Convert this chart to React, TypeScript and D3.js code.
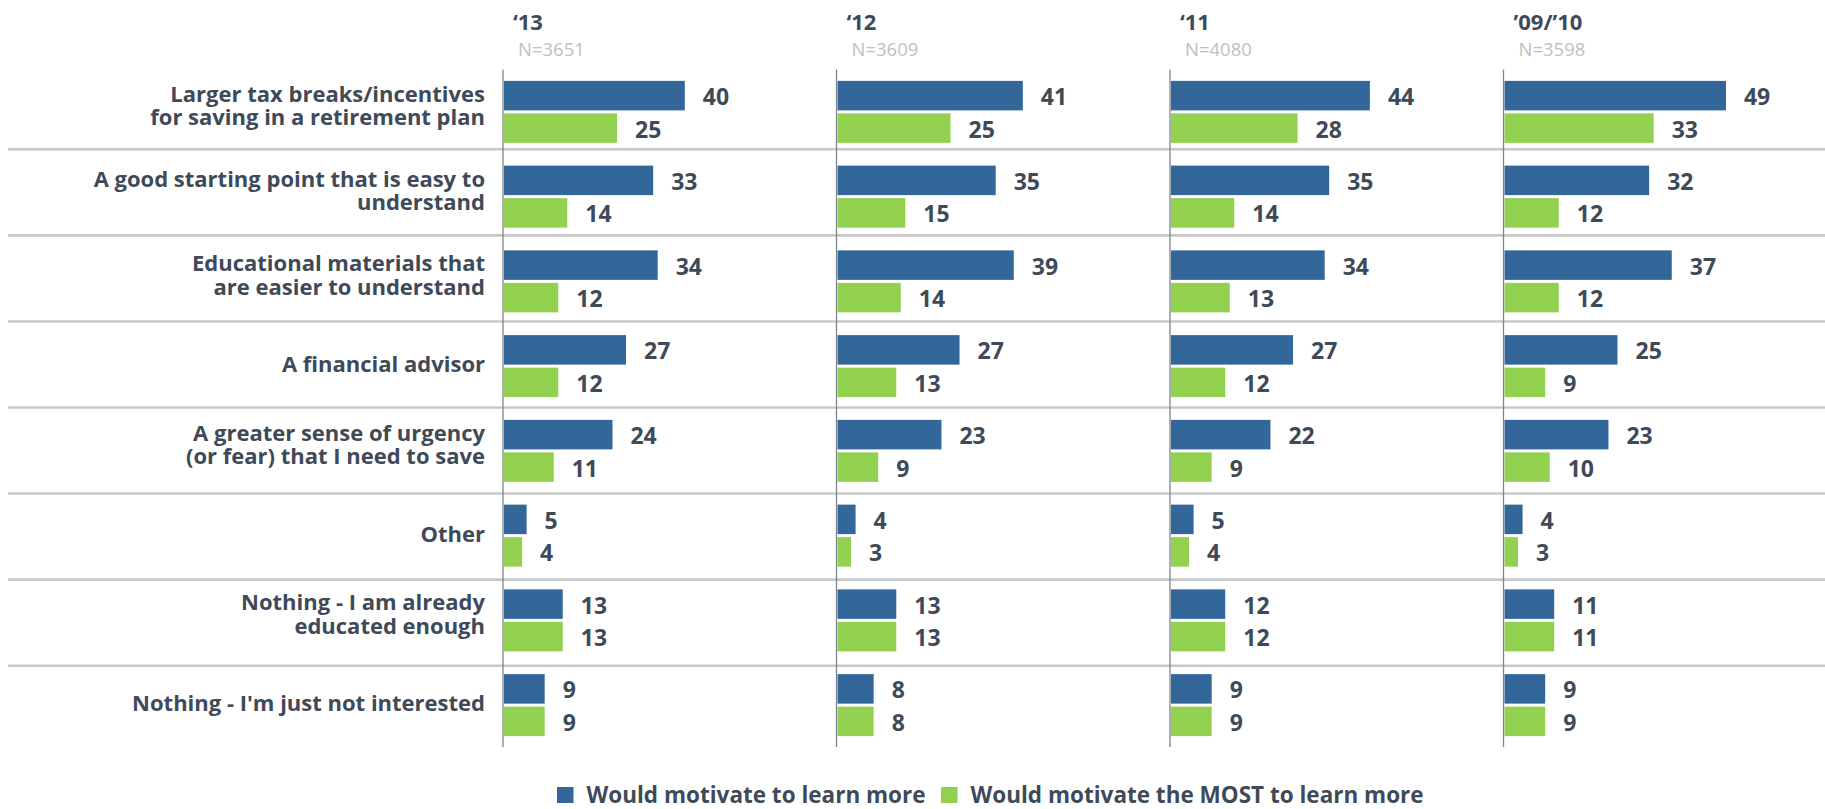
import React from "react";
import * as d3 from "d3";

const categories: string[][] = [
  ["Larger tax breaks/incentives", "for saving in a retirement plan"],
  ["A good starting point that is easy to", "understand"],
  ["Educational materials that", "are easier to understand"],
  ["A financial advisor"],
  ["A greater sense of urgency", "(or fear) that I need to save"],
  ["Other"],
  ["Nothing - I am already", "educated enough"],
  ["Nothing - I'm just not interested"],
];

const years = ["\u201813", "\u201812", "\u201811", "\u201909/\u201910"];
const sampleSizes = ["N=3651", "N=3609", "N=4080", "N=3598"];

const learnMore: number[][] = [
  [40, 33, 34, 27, 24, 5, 13, 9],
  [41, 35, 39, 27, 23, 4, 13, 8],
  [44, 35, 34, 27, 22, 5, 12, 9],
  [49, 32, 37, 25, 23, 4, 11, 9],
];

const learnMost: number[][] = [
  [25, 14, 12, 12, 11, 4, 13, 9],
  [25, 15, 14, 13, 9, 3, 13, 8],
  [28, 14, 13, 12, 9, 4, 12, 9],
  [33, 12, 12, 9, 10, 3, 11, 9],
];

const seriesNames = ["Would motivate to learn more", "Would motivate the MOST to learn more"];

const W = 1825;
const H = 809;
const BLUE = "#336699";
const GREEN = "#92D050";
const TEXT = "#3f4a58";
const FONT = "'Open Sans', sans-serif";

export default function App() {
  const rowIdx = categories.map((_, i) => i);
  const y = d3.scaleBand<number>().domain(rowIdx).range([69.5, 747.5]).paddingInner(0);
  const sepY = d3.scaleLinear().domain([1, 7]).range([149.3, 665.7]);
  const panelX = d3.scalePoint<string>().domain(years).range([503, 1503.5]);
  const x = d3.scaleLinear().domain([0, 50]).range([0, 226]);
  const barH = 29.5;
  const gap = 1.5;

  const legendX = [557, 941];

  return (
    <svg
      width={W}
      height={H}
      style={{ position: "absolute", left: 0, top: 0, display: "block", background: "#fff" }}
      fontFamily={FONT}
    >
      <rect x={0} y={0} width={W} height={H} fill="#fff" />
      {/* separators */}
      {d3.range(1, 8).map((i) => (
        <line key={"s" + i} x1={8} x2={W} y1={sepY(i)} y2={sepY(i)} stroke="#c8c8c8" strokeWidth={2.6} />
      ))}
      {/* category labels */}
      {categories.map((lines, i) => {
        const c = (y(i) as number) + y.bandwidth() / 2;
        return (
          <text key={"c" + i} textAnchor="end" fontSize={22} fontWeight={700} fill={TEXT}>
            {lines.length === 1 ? (
              <tspan x={485} y={c + 6}>{lines[0]}</tspan>
            ) : (
              lines.map((l, j) => (
                <tspan key={j} x={485} y={c - 10 + j * 23.3}>{l}</tspan>
              ))
            )}
          </text>
        );
      })}
      {/* panels */}
      {years.map((yr, p) => {
        const px = panelX(yr) as number;
        return (
          <g key={"p" + p}>
            <text x={px + 10} y={30} fontSize={22} fontWeight={700} fill={TEXT}>{yr}</text>
            <text x={px + 15} y={56} fontSize={18.5} fill="#bfbfbf">{sampleSizes[p]}</text>
            {rowIdx.map((i) => {
              const c = (y(i) as number) + y.bandwidth() / 2;
              const b = learnMore[p][i];
              const g = learnMost[p][i];
              const by = c - gap - barH;
              const gy = c + gap;
              return (
                <g key={"r" + i}>
                  <rect x={px + 1} y={by} width={x(b)} height={barH} fill={BLUE} />
                  <rect x={px + 1} y={gy} width={x(g)} height={barH} fill={GREEN} />
                  <text x={px + 1 + x(b) + 18} y={by + barH / 2 + 9.5} fontSize={23} fontWeight={700} fill={TEXT}>{b}</text>
                  <text x={px + 1 + x(g) + 18} y={gy + barH / 2 + 9.5} fontSize={23} fontWeight={700} fill={TEXT}>{g}</text>
                </g>
              );
            })}
            <line x1={px} x2={px} y1={69.5} y2={747} stroke="#7d858f" strokeWidth={1.3} />
          </g>
        );
      })}
      {/* legend */}
      {seriesNames.map((s, i) => (
        <g key={"l" + i}>
          <rect x={legendX[i]} y={787} width={16.5} height={16} fill={i === 0 ? BLUE : GREEN} />
          <text x={legendX[i] + 29.5} y={803} fontSize={22.5} fontWeight={700} fill={TEXT}>{s}</text>
        </g>
      ))}
    </svg>
  );
}
